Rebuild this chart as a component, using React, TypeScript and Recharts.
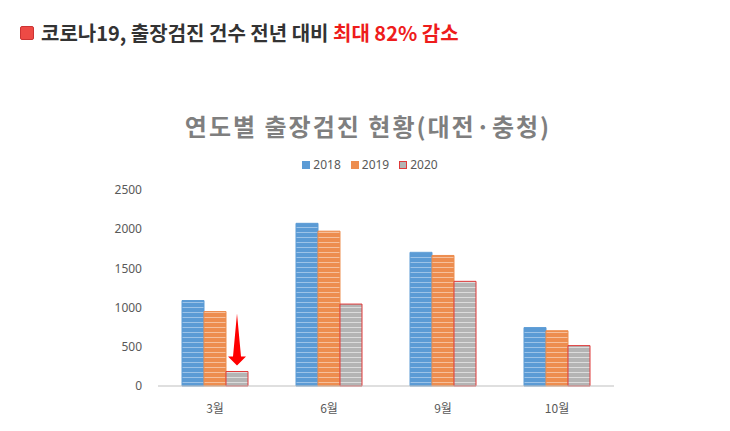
import { BarChart, Bar, XAxis, YAxis, LabelList } from "recharts";

const months = ["3월", "6월", "9월", "10월"];
const y2018 = [1090, 2075, 1705, 745];
const y2019 = [950, 1975, 1665, 705];
const y2020 = [185, 1045, 1335, 515];
const yTicks = [0, 500, 1000, 1500, 2000, 2500];

const SERIES = [
  { key: "y2018", name: "2018", base: "#5b9bd5", stripe: "#9cc3e8", edge: "#5b9bd5" },
  { key: "y2019", name: "2019", base: "#ed8d4f", stripe: "#f6c09c", edge: "#ed8d4f" },
  { key: "y2020", name: "2020", base: "#b4b4b4", stripe: "#dcdcdc", edge: "#e03a3a" },
];

const data = months.map((m, i) => ({ month: m, y2018: y2018[i], y2019: y2019[i], y2020: y2020[i] }));

const KR = "'Noto Sans CJK KR', 'Noto Sans', sans-serif";

function DropArrow(props: any) {
  const { x, y, width, value } = props;
  if (value !== y2020[0]) return null;
  const cx = x + width / 2;
  const bottom = y - 6;
  const top = bottom - 52;
  const headY = bottom - 9;
  return (
    <path
      d={`M${cx},${top} L${cx + 4},${headY} L${cx + 9},${headY} L${cx},${bottom} L${cx - 9},${headY} L${cx - 4},${headY} Z`}
      fill="#ff0000"
    />
  );
}

export default function App() {
  return (
    <div style={{ position: "absolute", left: 0, top: 0, width: 730, height: 431, background: "#fff" }}>
      <div style={{ position: "absolute", left: 20, top: 18, display: "flex", alignItems: "center", fontFamily: KR, fontWeight: 700, fontSize: 20, color: "#333" }}>
        <span style={{ width: 12, height: 12, background: "#ee4a45", border: "1px solid #c33", borderRadius: 2, marginRight: 7 }} />
        <span>코로나19, 출장검진 건수 전년 대비&nbsp;</span>
        <span style={{ color: "#ee1c1c" }}>최대 82% 감소</span>
      </div>
      <div style={{ position: "absolute", left: 0, width: 736, top: 108, textAlign: "center", fontFamily: KR, fontWeight: 700, fontSize: 24, letterSpacing: 2, color: "#7f7f7f" }}>
        연도별 출장검진 현황(대전·충청)
      </div>
      <div style={{ position: "absolute", left: 0, width: 740, top: 156, display: "flex", justifyContent: "center", gap: 10, fontFamily: "'Noto Sans', sans-serif", fontSize: 12, color: "#595959" }}>
        {SERIES.map((s) => (
          <span key={s.key} style={{ display: "flex", alignItems: "center", gap: 3 }}>
            <span style={{ width: 8, height: 8, background: s.base, border: `1px solid ${s.edge}`, boxSizing: "border-box" }} />
            {s.name}
          </span>
        ))}
      </div>
      <BarChart width={730} height={431} data={data} margin={{ top: 190, right: 116, bottom: 15, left: 100 }} barGap={0} barSize={22}>
        <defs>
          {SERIES.map((s) => (
            <pattern key={s.key} id={`p-${s.key}`} patternUnits="userSpaceOnUse" width={6} height={5}>
              <rect width={6} height={5} fill={s.base} />
              <rect y={2} width={6} height={1} fill={s.stripe} />
            </pattern>
          ))}
        </defs>
        <XAxis
          dataKey="month"
          axisLine={{ stroke: "#bfbfbf" }}
          tickLine={false}
          tick={{ fontSize: 12, fill: "#595959", fontFamily: KR }}
          tickMargin={12}
          height={30}
        />
        <YAxis
          domain={[0, 2500]}
          ticks={yTicks}
          axisLine={false}
          tickLine={false}
          width={58}
          tick={{ fontSize: 12, fill: "#595959", fontFamily: "'Noto Sans', sans-serif" }}
          tickMargin={10}
        />
        {SERIES.map((s) => (
          <Bar
            key={s.key}
            dataKey={s.key}
            name={s.name}
            fill={`url(#p-${s.key})`}
            stroke={s.edge}
            strokeWidth={1}
            isAnimationActive={false}
          >
            {s.key === "y2020" && <LabelList dataKey="y2020" content={DropArrow} />}
          </Bar>
        ))}
      </BarChart>
    </div>
  );
}
